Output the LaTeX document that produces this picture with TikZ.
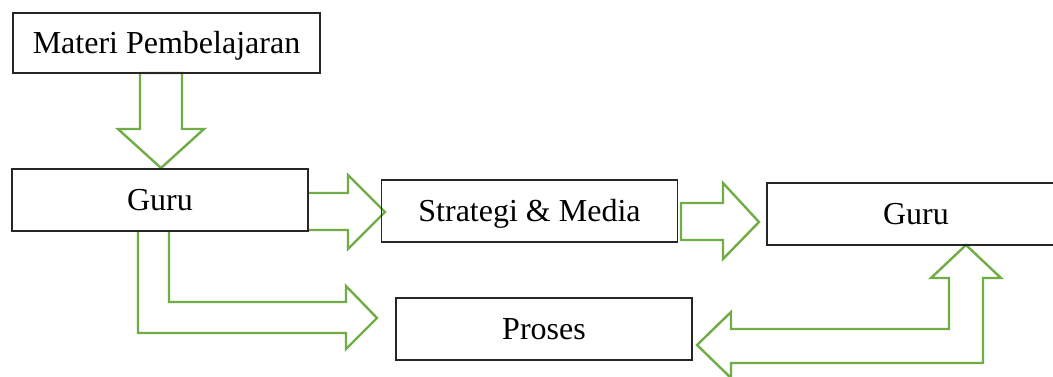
\documentclass[tikz,border=0pt]{standalone}
\usepackage{fontspec}
\setmainfont{Liberation Serif}
\definecolor{ogreen}{HTML}{70AD47}
\begin{document}
\begin{tikzpicture}[x=1pt,y=-1pt,
  box/.style={draw=black!85,line width=1.1pt,inner sep=0pt,
    font=\fontsize{32}{36}\selectfont,text height=22pt,text depth=2pt},
  barrow/.style={draw=ogreen,line width=2.4pt,line join=miter}]
\clip (0,0) rectangle (1053,376);
\fill[white] (0,0) rectangle (1053,376);
% block arrows
\draw[barrow] (140,73)--(140,129)--(118,129)--(161,168)--(204,129)--(182,129)--(182,73)--cycle;
\draw[barrow] (308,193)--(348,193)--(348,175)--(385,212)--(348,249)--(348,230)--(308,230);
\draw[barrow] (681,203)--(723,203)--(723,183)--(759,222)--(723,259)--(723,240)--(681,240)--cycle;
\draw[barrow] (138,231)--(138,333)--(346,333)--(346,349)--(377,318)--(346,286)--(346,302)--(169,302)--(169,231);
\draw[barrow] (949,278)--(931,278)--(966,245)--(1001,278)--(983,278)--(983,363)--(731,363)--(731,378)--(697,345)--(731,312)--(731,329)--(949,329)--cycle;
% boxes
\node[box,minimum width=307pt,minimum height=60pt] (mp) at (166.5,43) {Materi Pembelajaran};
\node[box,minimum width=296pt,minimum height=62pt] (g1) at (160,200) {Guru};
\node[box,minimum width=296pt,minimum height=62pt] (sm) at (529.5,211) {Strategi \& Media};
\node[box,minimum width=296pt,minimum height=62pt] (pr) at (544,329) {Proses};
\node[box,minimum width=298pt,minimum height=62pt] (g2) at (916,214) {Guru};
\end{tikzpicture}
\end{document}
